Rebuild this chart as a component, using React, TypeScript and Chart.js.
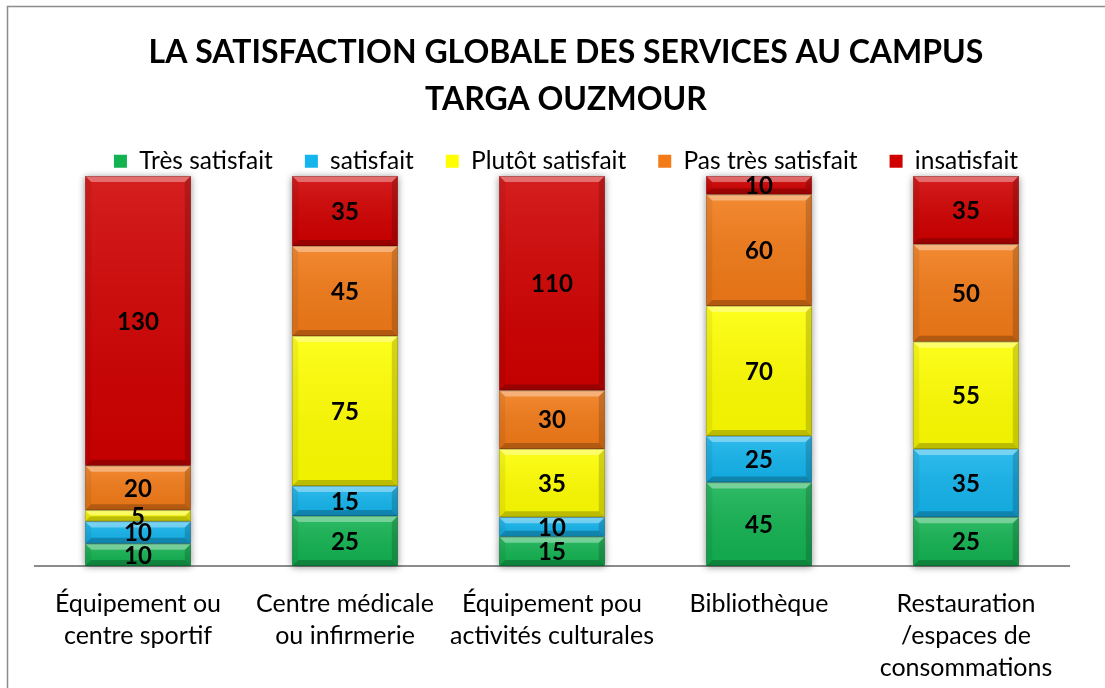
import React, { useEffect, useRef } from 'react';
import { Chart, registerables } from 'chart.js';

Chart.register(...registerables);

const titleLines = ['LA SATISFACTION GLOBALE DES SERVICES AU CAMPUS', 'TARGA OUZMOUR'];

const categories: string[][] = [
  ['Équipement ou', 'centre sportif'],
  ['Centre médicale', 'ou infirmerie'],
  ['Équipement pou', 'activités culturales'],
  ['Bibliothèque'],
  ['Restauration', '/espaces de', 'consommations'],
];

const seriesNames = ['Très satisfait', 'satisfait', 'Plutôt satisfait', 'Pas très satisfait', 'insatisfait'];
const tresSatisfait = [10, 25, 15, 45, 25];
const satisfait = [10, 15, 10, 25, 35];
const plutotSatisfait = [5, 75, 35, 70, 55];
const pasTresSatisfait = [20, 45, 30, 60, 50];
const insatisfait = [130, 35, 110, 10, 35];
const seriesColors = ['#13B251', '#14B4EC', '#FFFF00', '#F27A17', '#D00000'];

const seriesValues = [tresSatisfait, satisfait, plutotSatisfait, pasTresSatisfait, insatisfait];
const totals = categories.map((_, i) => seriesValues.reduce((s, arr) => s + arr[i], 0));

const FONT = 'Lato, "Open Sans", sans-serif';

const framePlugin = {
  id: 'frame',
  beforeDraw(chart: any) {
    const ctx = chart.ctx;
    ctx.save();
    ctx.fillStyle = '#ffffff';
    ctx.fillRect(0, 0, chart.width, chart.height);
    ctx.strokeStyle = '#8c8c8c';
    ctx.lineWidth = 1.5;
    ctx.strokeRect(7.5, 6.5, 1300, 900);
    ctx.restore();
  },
};

function barRect(el: any) {
  const l = el.x - el.width / 2;
  const r = el.x + el.width / 2;
  const t = Math.min(el.y, el.base);
  const b = Math.max(el.y, el.base);
  return { l, r, t, b };
}

const shadowPlugin = {
  id: 'barShadow',
  beforeDatasetsDraw(chart: any) {
    const ctx = chart.ctx;
    ctx.save();
    ctx.shadowColor = 'rgba(0,0,0,0.45)';
    ctx.shadowBlur = 7;
    ctx.shadowOffsetX = 0;
    ctx.shadowOffsetY = 1;
    ctx.fillStyle = '#ffffff';
    chart.data.datasets.forEach((_: any, di: number) => {
      const meta = chart.getDatasetMeta(di);
      meta.data.forEach((el: any) => {
        const { l, r, t, b } = barRect(el);
        if (b - t > 0) ctx.fillRect(l, t, r - l, b - t);
      });
    });
    ctx.restore();
  },
};

const bevelPlugin = {
  id: 'bevel',
  afterDatasetsDraw(chart: any) {
    const ctx = chart.ctx;
    ctx.save();
    chart.data.datasets.forEach((_: any, di: number) => {
      const meta = chart.getDatasetMeta(di);
      meta.data.forEach((el: any) => {
        const { l, r, t, b } = barRect(el);
        const h = b - t;
        if (h <= 0) return;
        const bv = Math.min(6, h / 2.2);
        const poly = (pts: number[][], fill: string) => {
          ctx.beginPath();
          ctx.moveTo(pts[0][0], pts[0][1]);
          for (let k = 1; k < pts.length; k++) ctx.lineTo(pts[k][0], pts[k][1]);
          ctx.closePath();
          ctx.fillStyle = fill;
          ctx.fill();
        };
        const g = ctx.createLinearGradient(0, t, 0, b);
        g.addColorStop(0, 'rgba(255,255,255,0.12)');
        g.addColorStop(1, 'rgba(0,0,0,0.06)');
        ctx.fillStyle = g;
        ctx.fillRect(l, t, r - l, h);
        poly([[l, t], [r, t], [r - bv, t + bv], [l + bv, t + bv]], 'rgba(255,255,255,0.35)');
        poly([[l, b], [r, b], [r - bv, b - bv], [l + bv, b - bv]], 'rgba(0,0,0,0.22)');
        poly([[l, t], [l + bv, t + bv], [l + bv, b - bv], [l, b]], 'rgba(0,0,0,0.06)');
        poly([[r, t], [r - bv, t + bv], [r - bv, b - bv], [r, b]], 'rgba(0,0,0,0.16)');
        ctx.strokeStyle = 'rgba(0,0,0,0.25)';
        ctx.lineWidth = 0.8;
        ctx.strokeRect(l + 0.4, t + 0.4, r - l - 0.8, h - 0.8);
      });
    });
    ctx.restore();
  },
};

const labelPlugin = {
  id: 'valueLabels',
  afterDatasetsDraw(chart: any) {
    const ctx = chart.ctx;
    ctx.save();
    ctx.font = `bold 24px ${FONT}`;
    ctx.fillStyle = '#000000';
    ctx.textAlign = 'center';
    ctx.textBaseline = 'middle';
    chart.data.datasets.forEach((ds: any, di: number) => {
      const meta = chart.getDatasetMeta(di);
      meta.data.forEach((el: any, i: number) => {
        const v = ds.rawValues[i];
        ctx.fillText(String(v), el.x, (el.y + el.base) / 2 + 1);
      });
    });
    ctx.restore();
  },
};

export default function App() {
  const ref = useRef<HTMLCanvasElement | null>(null);

  useEffect(() => {
    if (!ref.current) return;
    const chart = new Chart(ref.current, {
      type: 'bar',
      data: {
        labels: categories,
        datasets: seriesNames.map((name, si) => ({
          label: name,
          data: seriesValues[si].map((v, i) => (v / totals[i]) * 100),
          rawValues: seriesValues[si],
          backgroundColor: seriesColors[si],
          borderWidth: 0,
          categoryPercentage: 0.51,
          barPercentage: 1,
        })) as any,
      },
      options: {
        responsive: false,
        animation: false,
        devicePixelRatio: 1,
        layout: { padding: { left: 34.5, right: 7.5, top: 0, bottom: 0 } },
        plugins: {
          title: {
            display: true,
            text: titleLines,
            color: '#000000',
            font: { family: FONT, size: 32, weight: 'bold', lineHeight: '47px' },
            padding: { top: 29, bottom: -6 },
          },
          legend: {
            display: true,
            position: 'top',
            maxHeight: 59,
            labels: {
              color: '#000000',
              font: { family: FONT, size: 24.5 },
              boxWidth: 13,
              boxHeight: 13,
              padding: 32,
            },
          },
          tooltip: { enabled: false },
        },
        scales: {
          x: {
            stacked: true,
            grid: { display: false, drawTicks: false },
            border: { display: true, color: '#8c8c8c', width: 2 },
            ticks: {
              color: '#000000',
              font: { family: FONT, size: 25, lineHeight: '32px' },
              padding: 22,
              maxRotation: 0,
              autoSkip: false,
            },
            afterFit: (s: any) => {
              s.height = 122;
            },
          },
          y: {
            stacked: true,
            position: 'right',
            min: 0,
            max: 100,
            display: true,
            grid: { display: false, drawTicks: false },
            border: { display: false },
            ticks: { display: false },
            afterFit: (s: any) => {
              s.width = 28;
            },
          },
        },
      } as any,
      plugins: [framePlugin, shadowPlugin, bevelPlugin, labelPlugin],
    });
    return () => chart.destroy();
  }, []);

  return (
    <div style={{ position: 'fixed', left: 0, top: 0, width: 1105, height: 688, overflow: 'hidden', background: '#fff' }}>
      <canvas ref={ref} width={1105} height={688} style={{ display: 'block', width: 1105, height: 688 }} />
    </div>
  );
}
